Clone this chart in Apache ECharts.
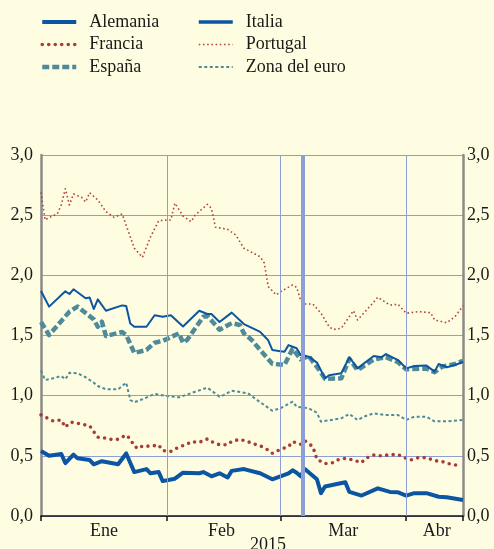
<!DOCTYPE html>
<html>
<head>
<meta charset="utf-8">
<script src="https://cdn.jsdelivr.net/npm/echarts@6/dist/echarts.min.js"></script>
<style>
  html, body { margin: 0; padding: 0; background: #fffde1; }
  #chart { width: 494px; height: 549px; }
</style>
</head>
<body>
<div id="chart"></div>
<script>
// x = días desde el 1 de enero de 2015
var monthNames = ['Ene', 'Feb', 'Mar', 'Abr'];
var monthStarts = [0, 31, 59, 90, 104];
var monthMids = [15.5, 44.5, 74.5, 97.5];
var qeDay = 64.4;

var alemania = [[0,0.54],[2,0.50],[5,0.515],[6,0.44],[8,0.51],[9,0.48],[12,0.465],[13,0.43],[15,0.455],[19,0.43],[21,0.52],[23,0.365],[26,0.39],[27,0.355],[29,0.365],[30,0.29],[33,0.31],[35,0.36],[39,0.355],[40,0.365],[42,0.33],[44,0.355],[46,0.32],[47,0.375],[50,0.39],[54,0.355],[57,0.305],[59,0.33],[61,0.355],[62,0.38],[63,0.36],[64,0.33],[65,0.39],[68,0.305],[69,0.19],[70,0.245],[75,0.28],[76,0.2],[79,0.17],[83,0.23],[86,0.2],[88,0.197],[90,0.17],[92,0.19],[95,0.19],[98,0.16],[100,0.155],[104,0.133]];
var italia = [[0,1.87],[2,1.74],[6,1.867],[7,1.845],[8,1.884],[11,1.81],[12,1.815],[13,1.72],[14,1.80],[16,1.706],[20,1.75],[21,1.745],[22,1.60],[23,1.573],[26,1.573],[28,1.668],[30,1.656],[32,1.668],[35,1.575],[39,1.706],[41,1.679],[42,1.679],[44,1.612],[47,1.69],[50,1.595],[53,1.546],[54,1.53],[56,1.46],[57,1.38],[59,1.37],[60,1.365],[61,1.42],[63,1.394],[64,1.338],[66,1.324],[68,1.275],[70,1.144],[71,1.17],[74,1.186],[76,1.319],[78,1.227],[82,1.33],[84,1.32],[85,1.346],[88,1.296],[90,1.227],[92,1.246],[95,1.25],[97,1.2],[98,1.263],[100,1.236],[102,1.255],[104,1.28]];
var francia = [[0,0.84],[2,0.806],[3,0.79],[5,0.798],[6,0.737],[7,0.775],[8,0.78],[10,0.762],[12,0.75],[13,0.70],[14,0.654],[15,0.654],[17,0.637],[19,0.637],[21,0.673],[22,0.64],[23,0.58],[24,0.559],[25,0.582],[27,0.58],[29,0.59],[30,0.543],[32,0.537],[34,0.573],[36,0.597],[37,0.618],[39,0.612],[41,0.64],[42,0.618],[44,0.592],[46,0.592],[47,0.62],[49,0.637],[51,0.618],[52,0.603],[54,0.584],[56,0.548],[57,0.521],[59,0.554],[61,0.576],[62,0.618],[64,0.596],[65,0.626],[67,0.576],[68,0.471],[70,0.435],[72,0.443],[73,0.465],[75,0.479],[77,0.465],[79,0.443],[80,0.479],[82,0.507],[84,0.499],[86,0.51],[88,0.51],[90,0.479],[91,0.465],[93,0.485],[95,0.485],[97,0.46],[99,0.451],[100,0.438],[102,0.424],[103,0.422]];
var portugal = [[0,2.69],[1,2.46],[2,2.48],[4,2.51],[5,2.585],[6,2.72],[7,2.585],[8,2.676],[10,2.648],[11,2.61],[12,2.687],[14,2.626],[16,2.53],[18,2.482],[20,2.51],[22,2.32],[23,2.225],[25,2.15],[27,2.32],[29,2.454],[31,2.46],[32,2.46],[33,2.6],[35,2.493],[37,2.446],[38,2.5],[41,2.59],[42,2.557],[43,2.4],[46,2.382],[48,2.335],[50,2.225],[54,2.155],[55,2.105],[56,1.906],[58,1.837],[59,1.864],[62,1.92],[63,1.9],[64,1.79],[65,1.762],[67,1.762],[69,1.685],[70,1.63],[71,1.573],[72,1.55],[74,1.56],[77,1.706],[78,1.629],[81,1.74],[83,1.817],[86,1.753],[88,1.759],[90,1.685],[93,1.698],[96,1.69],[97,1.629],[100,1.606],[102,1.656],[104,1.745]];
var espana = [[0,1.612],[2,1.504],[7,1.698],[9,1.74],[13,1.634],[14,1.573],[15,1.615],[16,1.496],[20,1.529],[21,1.504],[23,1.355],[26,1.38],[28,1.44],[30,1.455],[34,1.518],[35,1.44],[36,1.463],[40,1.656],[41,1.662],[44,1.548],[47,1.603],[49,1.587],[50,1.518],[52,1.46],[54,1.38],[57,1.265],[60,1.255],[62,1.39],[64,1.302],[66,1.33],[67,1.282],[68,1.24],[70,1.14],[74,1.144],[76,1.306],[78,1.212],[82,1.3],[85,1.32],[88,1.278],[90,1.219],[95,1.225],[97,1.195],[99,1.243],[102,1.263],[104,1.29]];
var zonaEuro = [[0,1.208],[1,1.13],[3,1.144],[5,1.163],[6,1.136],[7,1.19],[9,1.186],[11,1.153],[13,1.108],[14,1.08],[16,1.053],[19,1.053],[21,1.108],[22,0.964],[23,0.945],[25,0.97],[28,1.014],[31,0.997],[34,0.986],[38,1.033],[41,1.066],[44,0.992],[45,1.005],[47,1.041],[51,1.02],[53,0.97],[57,0.875],[59,0.895],[62,0.95],[63,0.908],[66,0.895],[68,0.858],[69,0.784],[71,0.795],[74,0.812],[76,0.848],[78,0.798],[80,0.831],[82,0.853],[85,0.839],[88,0.839],[90,0.798],[92,0.825],[95,0.825],[97,0.787],[100,0.787],[104,0.798]];

var font = '"Liberation Serif", "Times New Roman", serif';
var gridColor = '#8d9fd9';
var blue = '#0b55a3';
var red = '#a83c38';
var teal = '#4e8a9a';
var hidden = { color: 'rgba(0,0,0,0)', borderColor: 'rgba(0,0,0,0)', borderWidth: 0, opacity: 0 };

// estilos de línea compartidos por serie y leyenda
var styles = {
  'Alemania':      { color: blue, width: 4, type: 'solid', cap: 'butt' },
  'Italia':        { color: blue, width: 2, type: 'solid', cap: 'butt' },
  'Francia':       { color: red, width: 3.6, type: [0, 6.5], cap: 'round' },
  'Portugal':      { color: '#b3443e', width: 1.6, type: [1.6, 2.6], cap: 'butt' },
  'España':        { color: teal, width: 4.5, type: [7, 3], cap: 'butt' },
  'Zona del euro': { color: teal, width: 2, type: [3, 2.5], cap: 'butt' }
};

function line(name, data) {
  var s = styles[name];
  return {
    name: name, type: 'line', data: data, symbol: 'none', z: 3,
    lineStyle: { color: s.color, width: s.width, type: s.type, cap: s.cap, join: 'round' },
    itemStyle: hidden,
    emphasis: { disabled: true }
  };
}

var legendText = { fontFamily: font, fontSize: 18, color: '#1a1a1a', padding: [0, 0, 0, 8], lineHeight: 18 };
function legend(names, left) {
  return {
    data: names.map(function (n) {
      var s = styles[n];
      return { name: n, lineStyle: { color: s.color, width: n === 'Italia' ? 3.5 : s.width, type: s.type, cap: s.cap } };
    }),
    left: left, top: 13, orient: 'vertical', padding: 0,
    itemWidth: 34, itemHeight: 14, itemGap: 4.5, selectedMode: false,
    itemStyle: hidden, textStyle: legendText
  };
}

var chart = echarts.init(document.getElementById('chart'));
chart.setOption({
  backgroundColor: '#fffde1',
  animation: false,
  title: {
    text: '2015', left: 250, top: 536, padding: 0,
    textStyle: { fontFamily: font, fontSize: 18, fontWeight: 'normal', color: '#1a1a1a' }
  },
  legend: [
    legend(['Alemania', 'Francia', 'España'], 40),
    legend(['Italia', 'Portugal', 'Zona del euro'], 197)
  ],
  grid: { left: 41, right: 31, top: 155, bottom: 33 },
  xAxis: {
    type: 'value', min: 0, max: 104,
    axisLine: { show: true, lineStyle: { color: '#111', width: 1.5 } },
    axisTick: { show: true, customValues: monthStarts, length: 5, lineStyle: { color: '#111', width: 1.5 } },
    axisLabel: {
      customValues: monthMids, margin: 6,
      fontFamily: font, fontSize: 18, color: '#1a1a1a',
      formatter: function (v) { return monthNames[monthStarts.filter(function (s) { return s <= v; }).length - 1]; }
    },
    splitLine: { show: false }
  },
  yAxis: [0, 1].map(function (i) {
    return {
      type: 'value', min: 0, max: 3, interval: 0.5, position: i ? 'right' : 'left',
      axisLine: { show: true, lineStyle: { color: '#8a8a8a', width: 2.5 } },
      axisTick: { show: false },
      axisLabel: {
        margin: i ? 4 : 8, fontFamily: font, fontSize: 18, color: '#1a1a1a',
        formatter: function (v) { return v.toFixed(1).replace('.', ','); }
      },
      splitLine: { show: !i, lineStyle: { color: gridColor, width: 1 } }
    };
  }),
  series: [
    {
      name: 'rejilla', type: 'line', data: [], z: 1, silent: true,
      markLine: {
        symbol: 'none', silent: true, label: { show: false },
        lineStyle: { color: gridColor, width: 1, type: 'solid' },
        data: monthStarts.slice(1, 4).map(function (d) { return { xAxis: d }; })
      }
    },
    line('Portugal', portugal),
    line('Zona del euro', zonaEuro),
    line('Francia', francia),
    line('España', espana),
    line('Italia', italia),
    line('Alemania', alemania),
    {
      name: 'QE', type: 'line', data: [], z: 5, silent: true,
      markLine: {
        symbol: 'none', silent: true, label: { show: false },
        lineStyle: { color: gridColor, width: 4, type: 'solid' },
        data: [{ xAxis: qeDay }]
      }
    }
  ]
});
</script>
</body>
</html>
